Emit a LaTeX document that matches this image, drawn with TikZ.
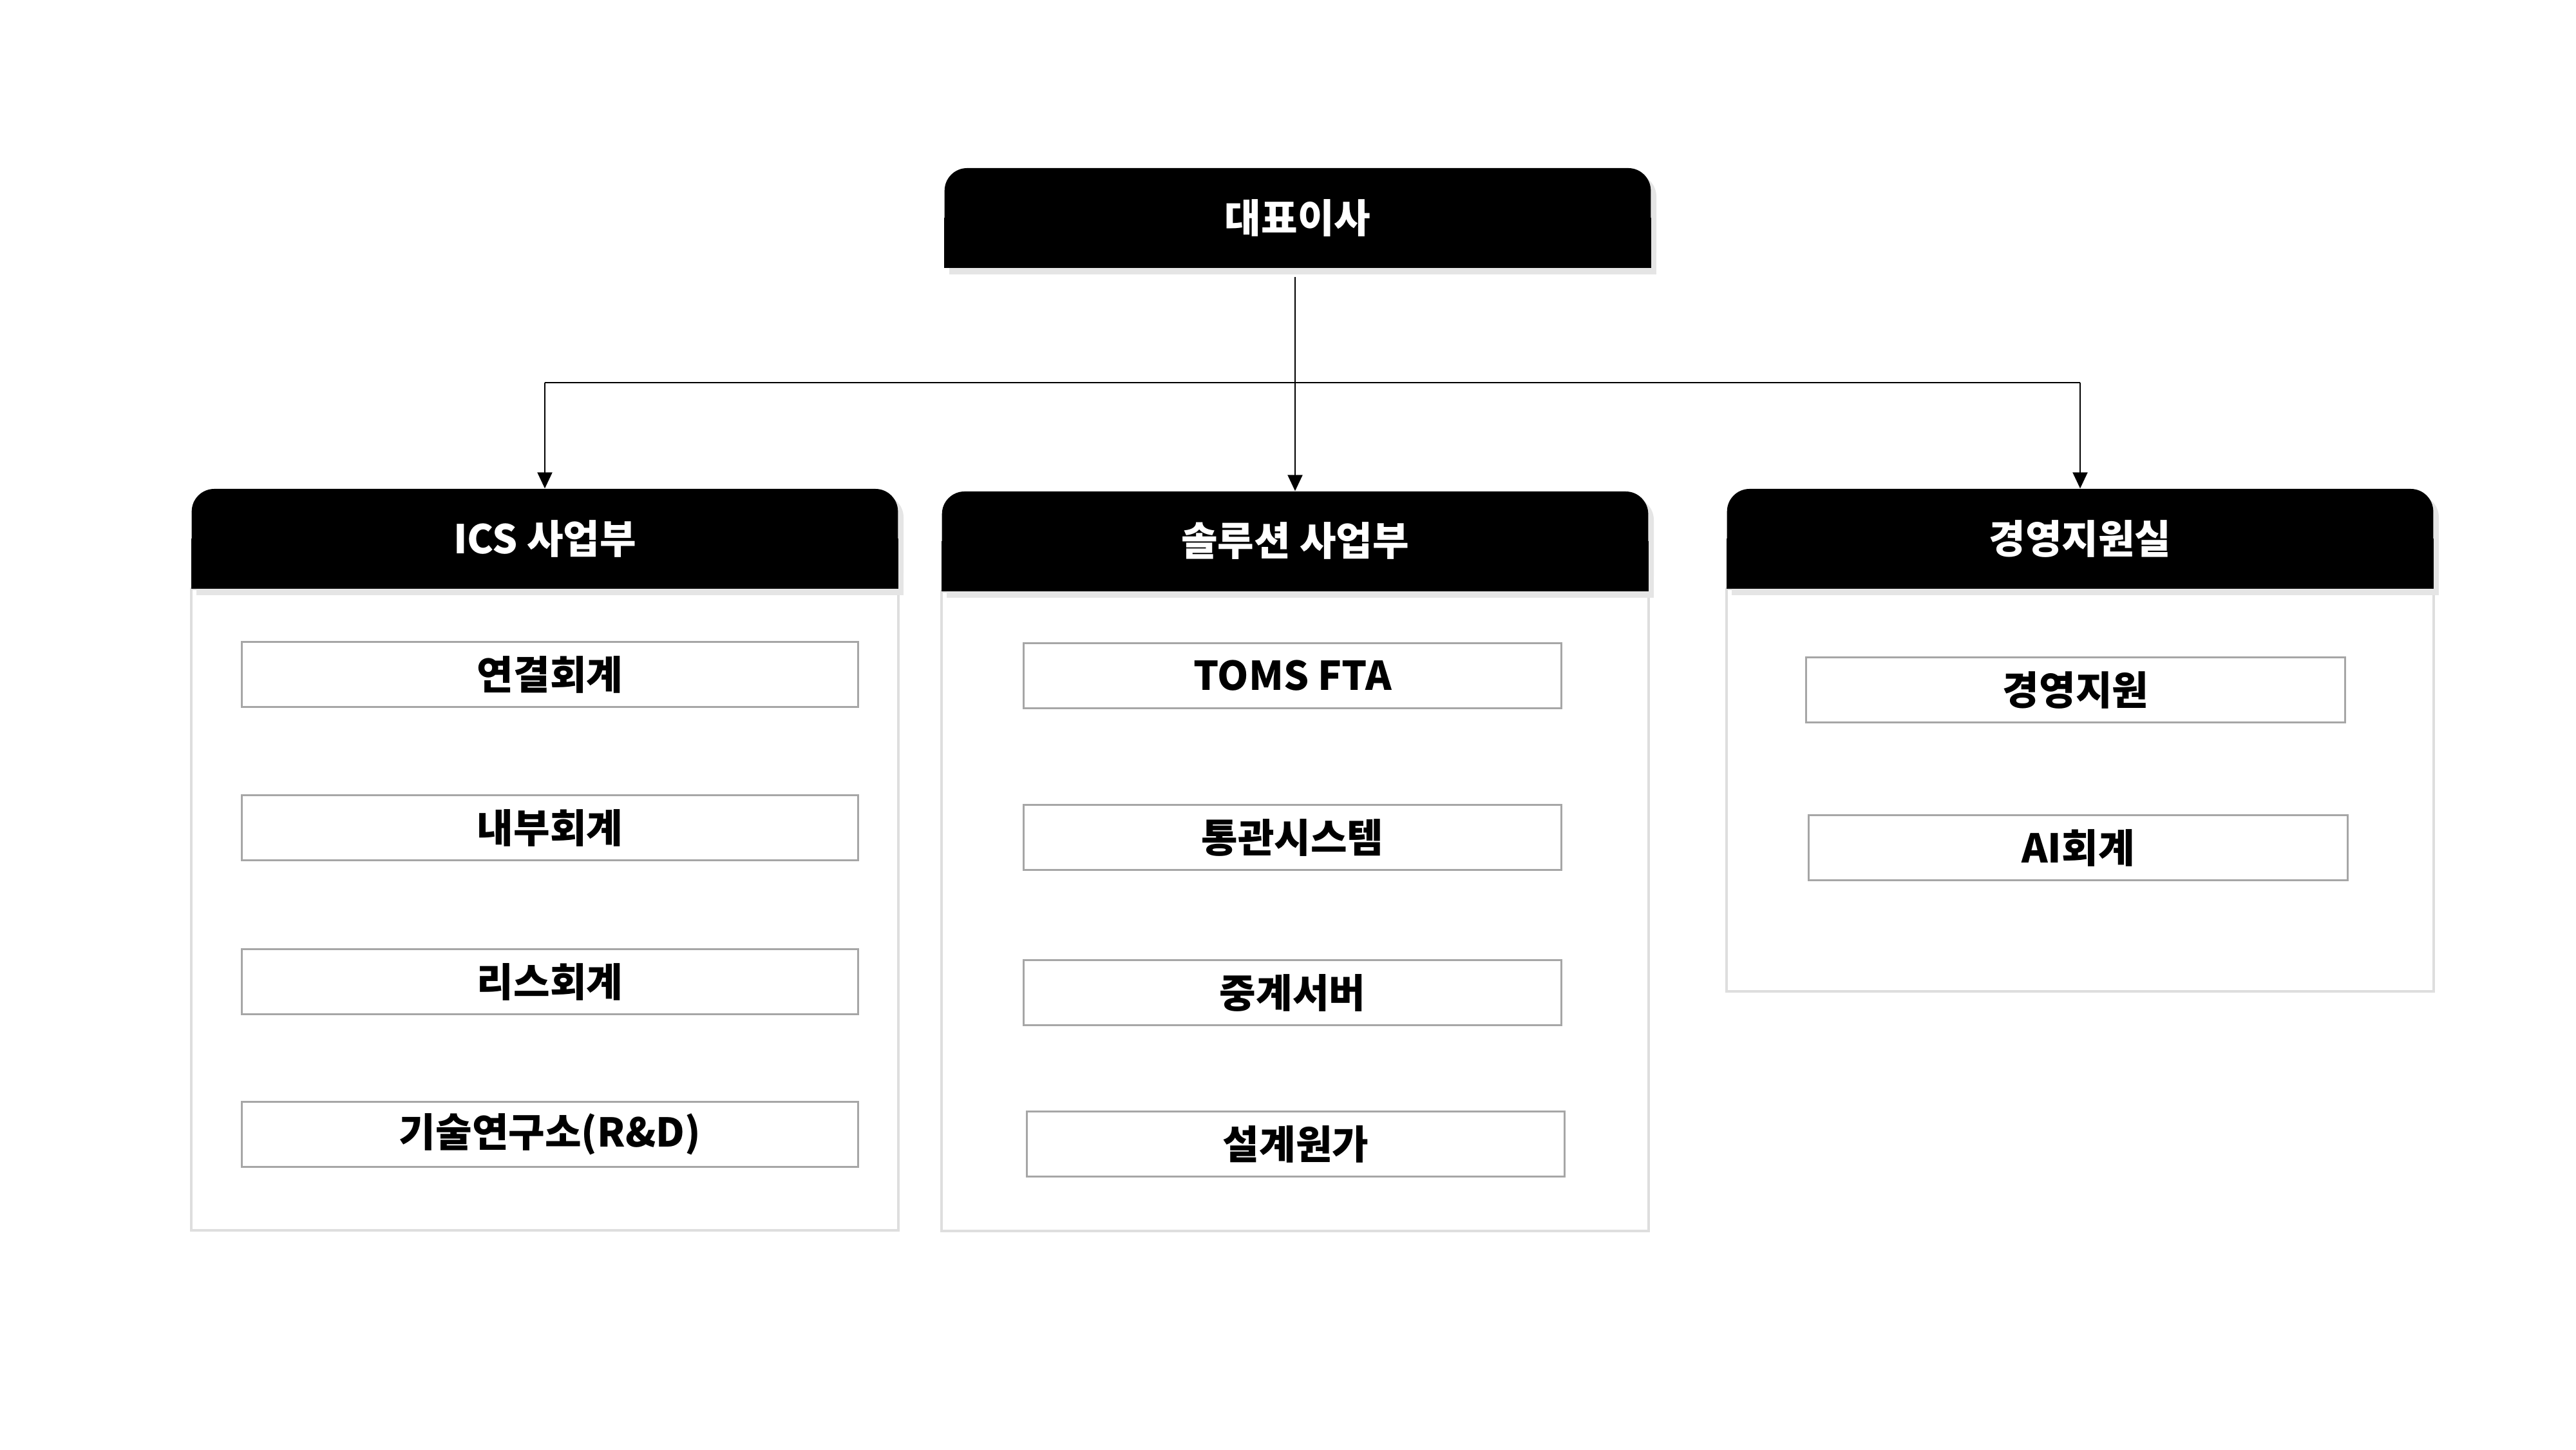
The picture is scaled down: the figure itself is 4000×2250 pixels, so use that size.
\documentclass[tikz,border=0pt]{standalone}
\usepackage{fontspec}
\setmainfont{Noto Sans CJK KR}
\usetikzlibrary{arrows.meta,backgrounds,positioning}

\tikzset{
  head/.style={fill=black, text=white, rounded corners=0.35cm, minimum width=10.96cm,
    minimum height=1.54cm, inner sep=0pt, font=\bfseries\fontsize{17.5}{20}\selectfont},
  unit/.style={draw=black!35, line width=0.85pt, minimum height=1.01cm, inner sep=0pt,
    font=\bfseries\fontsize{17.5}{20}\selectfont},
  panel/.style={draw=black!13, line width=1.1pt, fill=white},
  shade/.style={fill=black!10},
  link/.style={line width=0.65pt, -{Triangle[width=0.23cm,length=0.25cm]}}
}

\begin{document}
\begin{tikzpicture}
        [x=0.01cm,y=-0.01cm]
        \useasboundingbox (0,0) rectangle (4000,2250);

        % headers
        \node[head] (ceo) at (2015,338) {대표이사};
        \node[head] (ics) at (846,836) {ICS 사업부};
        \node[head] (sol) at (2011,840) {솔루션 사업부};
        \node[head] (mgmt) at (3230,836) {경영지원실};

        \begin{scope}[on background layer]
        \draw[panel] (ics.south west) rectangle ([yshift=-9.96cm]ics.south east);
        \draw[panel] (sol.south west) rectangle ([yshift=-9.93cm]sol.south east);
        \draw[panel] (mgmt.south west) rectangle ([yshift=-6.25cm]mgmt.south east);
        \foreach \h in {ceo,ics,sol,mgmt}
        {\fill[shade,rounded corners=0.35cm] ([shift={(8,10)}]\h.south west) rectangle ([shift={(8,10)}]\h.north east);
         \fill[shade] ([shift={(8,10)}]\h.south west) rectangle ([shift={(8,10)}]\h.east);
         \fill (\h.south west) rectangle (\h.east);}
        \end{scope}

        % units
        \foreach \i/\y/\t in {1/1047/연결회계,2/1285/내부회계,3/1524/리스회계,4/1761/기술연구소(R\&D)}
        {\node[unit,minimum width=9.57cm] (ics\i) at (854,\y) {\t};}

        \node[unit,minimum width=8.34cm] (sol1) at (2007,1049) {TOMS FTA};
        \node[unit,minimum width=8.34cm] (sol2) at (2007,1300) {통관시스템};
        \node[unit,minimum width=8.34cm] (sol3) at (2007,1541) {중계서버};
        \node[unit,minimum width=8.34cm] (sol4) at (2012,1776) {설계원가};

        \node[unit,minimum width=8.36cm] (mgmt1) at (3223,1071) {경영지원};
        \node[unit,minimum width=8.36cm] (mgmt2) at (3227,1316) {AI회계};

        % connectors
        \coordinate (fork) at (2011,594);
        \draw[link] ([yshift=-0.14cm]ceo.south -| sol.north) -- (sol.north);
        \draw[line width=0.65pt] (ics.north |- fork) -- (mgmt.north |- fork);
        \draw[link] (ics.north |- fork) -- (ics.north);
        \draw[link] (mgmt.north |- fork) -- (mgmt.north);
      \end{tikzpicture}
\end{document}
